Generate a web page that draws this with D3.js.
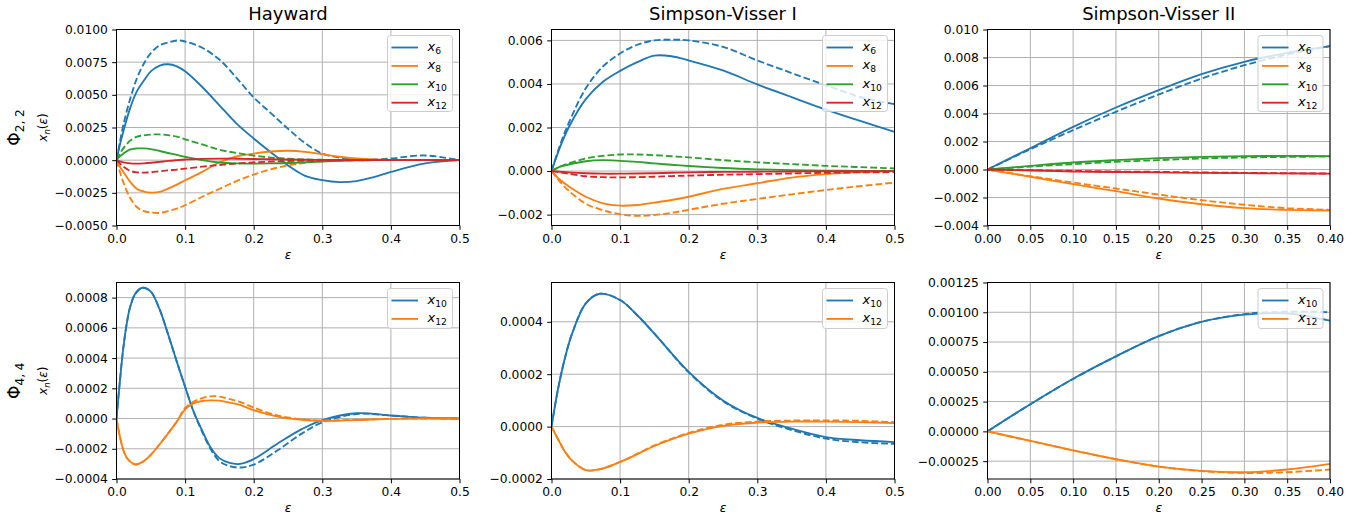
<!DOCTYPE html>
<html>
<head>
<meta charset="utf-8">
<script src="https://cdn.jsdelivr.net/npm/d3@7"></script>
<style>
  body { margin: 0; background: #fff; }
  svg { font-family: "DejaVu Sans", sans-serif; }
</style>
</head>
<body>
<svg id="fig" width="1370" height="517"></svg>
<script>
// ---------------------- data ----------------------
// Hayward, Phi_{2,2}
const hay22Eps = [0, 0.005, 0.01, 0.02, 0.03, 0.04, 0.05, 0.063, 0.075, 0.088, 0.1, 0.125, 0.15, 0.175, 0.2, 0.225, 0.25, 0.275, 0.3, 0.325, 0.35, 0.375, 0.4, 0.45, 0.5];
const hay22X6   = [0, 0.0012, 0.0022, 0.004, 0.0053, 0.0061, 0.0068, 0.00724, 0.00734, 0.00718, 0.0068, 0.0056, 0.0042, 0.0028, 0.00166, 0.0006, -0.0004, -0.0012, -0.00153, -0.00168, -0.0016, -0.0013, -0.0009, -0.00025, 0];
const hay22X6d  = [0, 0.0014, 0.0027, 0.0047, 0.0063, 0.0074, 0.0082, 0.0088, 0.009, 0.00916, 0.00908, 0.0086, 0.0077, 0.0063, 0.0048, 0.0036, 0.0024, 0.0013, 0.0005, 0.0002, 0.00006, 0.00005, 0.00013, 0.00036, 0];
const hay22X8   = [0, -0.0005, -0.0009, -0.00166, -0.0022, -0.0024, -0.00248, -0.00243, -0.00218, -0.00187, -0.00154, -0.0009, -0.00016, 0.00028, 0.0005, 0.00066, 0.00072, 0.00064, 0.00045, 0.00026, 0.00013, 0.00005, 0.00001, 0, 0];
const hay22X8d  = [0, -0.0009, -0.0017, -0.0029, -0.0036, -0.0039, -0.004, -0.00404, -0.0039, -0.0037, -0.00345, -0.0028, -0.0022, -0.0016, -0.0011, -0.0007, -0.0004, -0.0002, -0.00008, -0.00003, -0.00001, 0, 0, 0, 0];
const hay22X10  = [0, 0.0003, 0.0005, 0.00082, 0.0009, 0.0009, 0.00085, 0.0007, 0.00055, 0.0004, 0.00026, 0, -0.00018, -0.00025, -0.00026, -0.00025, -0.00022, -0.00016, -0.0001, -0.00005, -0.00002, 0, 0, 0, 0];
const hay22X10d = [0, 0.0005, 0.0009, 0.0015, 0.0018, 0.0019, 0.00196, 0.00197, 0.00192, 0.0018, 0.0016, 0.0012, 0.0008, 0.00055, 0.00035, 0.0002, 0.00012, 0.00006, 0.00003, 0.00001, 0, 0, 0, 0, 0];
const hay22X12  = [0, -0.0001, -0.00017, -0.00024, -0.00026, -0.00024, -0.0002, -0.00013, -0.00006, 0, 0.00005, 0.0001, 0.00012, 0.00011, 0.00009, 0.00007, 0.00005, 0.00003, 0.00002, 0.00001, 0, 0, 0, 0, 0];
const hay22X12d = [0, -0.00025, -0.0005, -0.00082, -0.00093, -0.00095, -0.00093, -0.00085, -0.00078, -0.00072, -0.00065, -0.0005, -0.00037, -0.00026, -0.00017, -0.00011, -0.00006, -0.00003, -0.00002, -0.00001, 0, 0, 0, 0, 0];

// Simpson-Visser I, Phi_{2,2}
const sv1_22Eps = [0, 0.0125, 0.025, 0.05, 0.075, 0.1, 0.125, 0.15, 0.175, 0.2, 0.25, 0.3, 0.35, 0.4, 0.45, 0.5];
const sv1_22X6   = [0, 0.0011, 0.002, 0.0033, 0.0041, 0.0046, 0.005, 0.0053, 0.00527, 0.00508, 0.00462, 0.00398, 0.0034, 0.00282, 0.0023, 0.0018];
const sv1_22X6d  = [0, 0.0012, 0.0022, 0.0038, 0.0048, 0.0054, 0.0058, 0.006, 0.00603, 0.006, 0.0057, 0.00508, 0.0045, 0.00394, 0.0034, 0.00307];
const sv1_22X8   = [0, -0.0004, -0.0007, -0.00118, -0.00148, -0.00159, -0.00156, -0.00145, -0.00133, -0.00118, -0.00082, -0.00056, -0.0003, -0.00014, -0.00005, 0];
const sv1_22X8d  = [0, -0.0005, -0.0009, -0.0015, -0.0018, -0.00198, -0.00206, -0.00202, -0.00192, -0.00178, -0.0015, -0.00128, -0.00107, -0.00087, -0.00069, -0.00053];
const sv1_22X10  = [0, 0.0002, 0.0003, 0.00045, 0.0005, 0.00047, 0.00042, 0.00035, 0.00029, 0.00023, 0.00014, 0.00008, 0.00004, 0.00002, 0.00001, 0];
const sv1_22X10d = [0, 0.0002, 0.00035, 0.00058, 0.0007, 0.00076, 0.00076, 0.00073, 0.00068, 0.00063, 0.0005, 0.0004, 0.00032, 0.00024, 0.00018, 0.00012];
const sv1_22X12  = [0, -0.00003, -0.00006, -0.0001, -0.00012, -0.00012, -0.00011, -0.0001, -0.00008, -0.00006, -0.00004, -0.00003, -0.00002, -0.00001, -0.00001, 0];
const sv1_22X12d = [0, -0.00006, -0.00012, -0.00024, -0.00028, -0.00029, -0.00028, -0.00026, -0.00023, -0.00021, -0.00017, -0.00014, -0.00011, -0.00008, -0.00006, -0.00005];

// Simpson-Visser II, Phi_{2,2}
const sv2_22Eps = [0, 0.05, 0.1, 0.15, 0.2, 0.25, 0.3, 0.35, 0.4];
const sv2_22X6   = [0, 0.00152, 0.00305, 0.00443, 0.00567, 0.00681, 0.00769, 0.00833, 0.00881];
const sv2_22X6d  = [0, 0.00145, 0.00281, 0.00412, 0.00536, 0.0065, 0.00745, 0.00821, 0.00881];
const sv2_22X8   = [0, -0.00052, -0.00105, -0.00155, -0.00207, -0.00248, -0.00276, -0.00288, -0.00293];
const sv2_22X8d  = [0, -0.00048, -0.00093, -0.00136, -0.00179, -0.00219, -0.00252, -0.00276, -0.00288];
const sv2_22X10  = [0, 0.00026, 0.0005, 0.00067, 0.00081, 0.0009, 0.00095, 0.00097, 0.00095];
const sv2_22X10d = [0, 0.00021, 0.00038, 0.00055, 0.00067, 0.00079, 0.00086, 0.0009, 0.00093];
const sv2_22X12  = [0, -0.00007, -0.00014, -0.00018, -0.00021, -0.00024, -0.00026, -0.00028, -0.00029];
const sv2_22X12d = [0, -0.00005, -0.0001, -0.00014, -0.00017, -0.00021, -0.00024, -0.00027, -0.00029];

// Hayward, Phi_{4,4}
const hay44Eps = [0, 0.005, 0.01, 0.015, 0.02, 0.028, 0.038, 0.05, 0.063, 0.075, 0.088, 0.1, 0.112, 0.125, 0.137, 0.15, 0.165, 0.18, 0.2, 0.235, 0.27, 0.3, 0.35, 0.4, 0.45, 0.5];
const hay44X10  = [0, 0.00025, 0.00047, 0.00063, 0.00074, 0.00083, 0.000865, 0.00084, 0.00072, 0.00056, 0.000375, 0.00021, 0.00005, -0.00008, -0.00019, -0.000262, -0.000294, -0.0003, -0.000268, -0.000165, -0.00007, -0.00001, 0.000035, 0.00002, 0.000005, 0];
const hay44X10d = [0, 0.00025, 0.00047, 0.00063, 0.00074, 0.00083, 0.000865, 0.00084, 0.00072, 0.00056, 0.000375, 0.00021, 0.00005, -0.00009, -0.0002, -0.000282, -0.000315, -0.000324, -0.000305, -0.00021, -0.0001, -0.000026, 0.00003, 0.00002, 0.000005, 0];
const hay44X12  = [0, -0.00012, -0.00021, -0.00026, -0.000285, -0.000304, -0.000287, -0.00024, -0.00017, -0.0001, -0.00002, 0.00006, 0.0001, 0.000116, 0.00012, 0.000118, 0.000105, 0.00009, 0.000055, 0.000013, -0.000008, -0.000015, -0.00001, -0.000002, 0, 0];
const hay44X12d = [0, -0.00012, -0.00021, -0.00026, -0.000285, -0.000304, -0.000287, -0.00024, -0.00017, -0.0001, -0.00002, 0.00007, 0.00011, 0.000135, 0.000147, 0.000145, 0.000128, 0.00011, 0.000073, 0.00002, -0.000005, -0.000013, -0.000008, -0.000002, 0, 0];

// Simpson-Visser I, Phi_{4,4}
const sv1_44Eps = [0, 0.01, 0.02, 0.03, 0.05, 0.07, 0.1, 0.125, 0.15, 0.2, 0.25, 0.3, 0.35, 0.4, 0.45, 0.5];
const sv1_44X10  = [0, 0.00015, 0.000266, 0.000355, 0.00047, 0.000507, 0.000483, 0.000425, 0.000355, 0.000209, 0.0001, 0.000033, -0.000008, -0.00004, -0.000052, -0.000059];
const sv1_44X10d = [0, 0.00015, 0.000266, 0.000355, 0.00047, 0.000507, 0.000483, 0.000425, 0.000355, 0.000207, 0.000097, 0.00003, -0.000013, -0.000046, -0.00006, -0.000066];
const sv1_44X12  = [0, -0.00005, -0.000097, -0.00013, -0.000166, -0.000163, -0.000135, -0.000105, -0.000074, -0.000027, 0.000003, 0.000015, 0.000019, 0.000019, 0.000017, 0.000013];
const sv1_44X12d = [0, -0.00005, -0.000097, -0.00013, -0.000166, -0.000163, -0.000135, -0.000104, -0.000072, -0.000024, 0.000007, 0.000019, 0.000023, 0.000024, 0.000022, 0.000017];

// Simpson-Visser II, Phi_{4,4}
const sv2_44Eps = [0, 0.05, 0.1, 0.15, 0.2, 0.25, 0.3, 0.35, 0.4];
const sv2_44X10  = [0, 0.000228, 0.000442, 0.00063, 0.0008, 0.00092, 0.00098, 0.00099, 0.00093];
const sv2_44X10d = [0, 0.000228, 0.00044, 0.00063, 0.0008, 0.00092, 0.000985, 0.001005, 0.001];
const sv2_44X12  = [0, -0.00008, -0.00016, -0.000234, -0.000296, -0.000332, -0.000343, -0.00032, -0.000273];
const sv2_44X12d = [0, -0.00008, -0.00016, -0.000234, -0.000296, -0.000334, -0.000349, -0.000343, -0.00032];

// tick values
const xTicksHalf = [0, 0.1, 0.2, 0.3, 0.4, 0.5];
const xTicksSv2  = [0, 0.05, 0.1, 0.15, 0.2, 0.25, 0.3, 0.35, 0.4];
const yTicksHay22 = [-0.005, -0.0025, 0, 0.0025, 0.005, 0.0075, 0.01];
const yTicksSv1_22 = [-0.002, 0, 0.002, 0.004, 0.006];
const yTicksSv2_22 = [-0.004, -0.002, 0, 0.002, 0.004, 0.006, 0.008, 0.01];
const yTicksHay44 = [-0.0004, -0.0002, 0, 0.0002, 0.0004, 0.0006, 0.0008];
const yTicksSv1_44 = [-0.0002, 0, 0.0002, 0.0004];
const yTicksSv2_44 = [-0.00025, 0, 0.00025, 0.0005, 0.00075, 0.001, 0.00125];

const titles = ["Hayward", "Simpson-Visser I", "Simpson-Visser II"];
const rowSubs = ["2, 2", "4, 4"];

// ---------------------- layout ----------------------
const colors = {6: "#1f77b4", 8: "#ff7f0e", 10: "#2ca02c", 12: "#d62728"};
const colors44 = {10: "#1f77b4", 12: "#ff7f0e"};
const colX = [[116.5, 459.5], [551.5, 894.5], [987.5, 1330]];
const rowY = [[29.5, 225.5], [282.5, 479]];
const tickFont = 12.3;
const tickLen = 4.3;

function mk(eps, ys) { return eps.map((e, i) => ({x: e, y: ys[i]})); }

const panels = [
  {row: 0, col: 0, xDom: [0, 0.5], yDom: [-0.005, 0.01], xt: xTicksHalf, xd: 1, yt: yTicksHay22, yd: 4,
   series: [[6, mk(hay22Eps, hay22X6), mk(hay22Eps, hay22X6d)], [8, mk(hay22Eps, hay22X8), mk(hay22Eps, hay22X8d)],
            [10, mk(hay22Eps, hay22X10), mk(hay22Eps, hay22X10d)], [12, mk(hay22Eps, hay22X12), mk(hay22Eps, hay22X12d)]], pal: colors},
  {row: 0, col: 1, xDom: [0, 0.5], yDom: [-0.0025, 0.0065], xt: xTicksHalf, xd: 1, yt: yTicksSv1_22, yd: 3,
   series: [[6, mk(sv1_22Eps, sv1_22X6), mk(sv1_22Eps, sv1_22X6d)], [8, mk(sv1_22Eps, sv1_22X8), mk(sv1_22Eps, sv1_22X8d)],
            [10, mk(sv1_22Eps, sv1_22X10), mk(sv1_22Eps, sv1_22X10d)], [12, mk(sv1_22Eps, sv1_22X12), mk(sv1_22Eps, sv1_22X12d)]], pal: colors},
  {row: 0, col: 2, xDom: [0, 0.4], yDom: [-0.004, 0.01], xt: xTicksSv2, xd: 2, yt: yTicksSv2_22, yd: 3,
   series: [[6, mk(sv2_22Eps, sv2_22X6), mk(sv2_22Eps, sv2_22X6d)], [8, mk(sv2_22Eps, sv2_22X8), mk(sv2_22Eps, sv2_22X8d)],
            [10, mk(sv2_22Eps, sv2_22X10), mk(sv2_22Eps, sv2_22X10d)], [12, mk(sv2_22Eps, sv2_22X12), mk(sv2_22Eps, sv2_22X12d)]], pal: colors},
  {row: 1, col: 0, xDom: [0, 0.5], yDom: [-0.0004, 0.0009], xt: xTicksHalf, xd: 1, yt: yTicksHay44, yd: 4,
   series: [[10, mk(hay44Eps, hay44X10), mk(hay44Eps, hay44X10d)], [12, mk(hay44Eps, hay44X12), mk(hay44Eps, hay44X12d)]], pal: colors44},
  {row: 1, col: 1, xDom: [0, 0.5], yDom: [-0.0002, 0.00055], xt: xTicksHalf, xd: 1, yt: yTicksSv1_44, yd: 4,
   series: [[10, mk(sv1_44Eps, sv1_44X10), mk(sv1_44Eps, sv1_44X10d)], [12, mk(sv1_44Eps, sv1_44X12), mk(sv1_44Eps, sv1_44X12d)]], pal: colors44},
  {row: 1, col: 2, xDom: [0, 0.4], yDom: [-0.0004, 0.00125], xt: xTicksSv2, xd: 2, yt: yTicksSv2_44, yd: 5,
   series: [[10, mk(sv2_44Eps, sv2_44X10), mk(sv2_44Eps, sv2_44X10d)], [12, mk(sv2_44Eps, sv2_44X12), mk(sv2_44Eps, sv2_44X12d)]], pal: colors44}
];

const svg = d3.select("#fig");
const defs = svg.append("defs");

function fmt(v, d) {
  const s = Math.abs(v).toFixed(d);
  return (v < -1e-12 ? "\u2212" : "") + s;
}

panels.forEach((p, k) => {
  const [x0, x1] = colX[p.col];
  const [y0, y1] = rowY[p.row];
  const xs = d3.scaleLinear().domain(p.xDom).range([x0, x1]);
  const ys = d3.scaleLinear().domain(p.yDom).range([y1, y0]);
  const g = svg.append("g");

  defs.append("clipPath").attr("id", "clip" + k)
    .append("rect").attr("x", x0).attr("y", y0).attr("width", x1 - x0).attr("height", y1 - y0);

  // grid
  p.xt.forEach(t => g.append("line")
    .attr("x1", xs(t)).attr("x2", xs(t)).attr("y1", y0).attr("y2", y1)
    .attr("stroke", "#b0b0b0").attr("stroke-width", 1));
  p.yt.forEach(t => g.append("line")
    .attr("x1", x0).attr("x2", x1).attr("y1", ys(t)).attr("y2", ys(t))
    .attr("stroke", "#b0b0b0").attr("stroke-width", 1));

  // curves
  const line = d3.line().x(d => xs(d.x)).y(d => ys(d.y)).curve(d3.curveCatmullRom.alpha(0.5));
  const curves = g.append("g").attr("clip-path", "url(#clip" + k + ")");
  p.series.forEach(([n, solid, dashed]) => {
    curves.append("path").datum(solid).attr("d", line)
      .attr("fill", "none").attr("stroke", p.pal[n]).attr("stroke-width", 1.85);
    curves.append("path").datum(dashed).attr("d", line)
      .attr("fill", "none").attr("stroke", p.pal[n]).attr("stroke-width", 1.85)
      .attr("stroke-dasharray", "6.8,2.95");
  });

  // axes through d3 axis generators
  const ax = g.append("g").attr("transform", "translate(0," + y1 + ")")
    .call(d3.axisBottom(xs).tickValues(p.xt).tickSize(tickLen).tickPadding(4.3).tickFormat(v => fmt(v, p.xd)));
  const ay = g.append("g").attr("transform", "translate(" + x0 + ",0)")
    .call(d3.axisLeft(ys).tickValues(p.yt).tickSize(tickLen).tickPadding(4.3).tickFormat(v => fmt(v, p.yd)));
  [ax, ay].forEach(a => {
    a.select(".domain").remove();
    a.selectAll("line").attr("stroke", "#000").attr("stroke-width", 1);
    a.selectAll("text").attr("font-size", tickFont).attr("fill", "#000")
      .attr("font-family", "DejaVu Sans");
  });

  // frame
  g.append("rect").attr("x", x0).attr("y", y0).attr("width", x1 - x0).attr("height", y1 - y0)
    .attr("fill", "none").attr("stroke", "#000").attr("stroke-width", 1);

  // x label
  g.append("text").attr("x", (x0 + x1) / 2).attr("y", y1 + 33)
    .attr("text-anchor", "middle").attr("font-size", 12.3).attr("font-style", "italic").text("\u03b5");

  // legend
  const nEnt = p.series.length;
  const lw = 65, lh = nEnt === 4 ? 76 : 40;
  const lx = x1 - 7 - lw, ly = y0 + 6;
  const leg = g.append("g");
  leg.append("rect").attr("x", lx).attr("y", ly).attr("width", lw).attr("height", lh)
    .attr("rx", 3).attr("fill", "#fff").attr("fill-opacity", 0.8)
    .attr("stroke", "#cccccc").attr("stroke-width", 1);
  p.series.forEach(([n], i) => {
    const cy = ly + 12 + i * 18.4;
    leg.append("line").attr("x1", lx + 4).attr("x2", lx + 30.5).attr("y1", cy).attr("y2", cy)
      .attr("stroke", p.pal[n]).attr("stroke-width", 1.85);
    const t = leg.append("text").attr("x", lx + 40).attr("y", cy + 3.5).attr("font-size", 13);
    t.append("tspan").attr("font-style", "italic").text("x");
    t.append("tspan").attr("font-size", 9.2).attr("dy", 3).text(n);
  });
});

// column titles
titles.forEach((s, c) => {
  svg.append("text").attr("x", (colX[c][0] + colX[c][1]) / 2).attr("y", 20)
    .attr("text-anchor", "middle").attr("font-size", 18).text(s);
});

// row labels
rowSubs.forEach((s, r) => {
  const cy = (rowY[r][0] + rowY[r][1]) / 2;
  const t = svg.append("text").attr("transform", "translate(20," + cy + ") rotate(-90)")
    .attr("text-anchor", "middle").attr("font-size", 17);
  t.append("tspan").text("\u03a6");
  t.append("tspan").attr("font-size", 12).attr("dy", 3.5).text(s);

  const u = svg.append("text").attr("transform", "translate(47," + cy + ") rotate(-90)")
    .attr("text-anchor", "middle").attr("font-size", 12);
  u.append("tspan").attr("font-style", "italic").text("x");
  u.append("tspan").attr("font-style", "italic").attr("font-size", 8.5).attr("dy", 2.5).text("n");
  u.append("tspan").attr("dy", -2.5).text("(");
  u.append("tspan").attr("font-style", "italic").text("\u03b5");
  u.append("tspan").text(")");
});
</script>
</body>
</html>
